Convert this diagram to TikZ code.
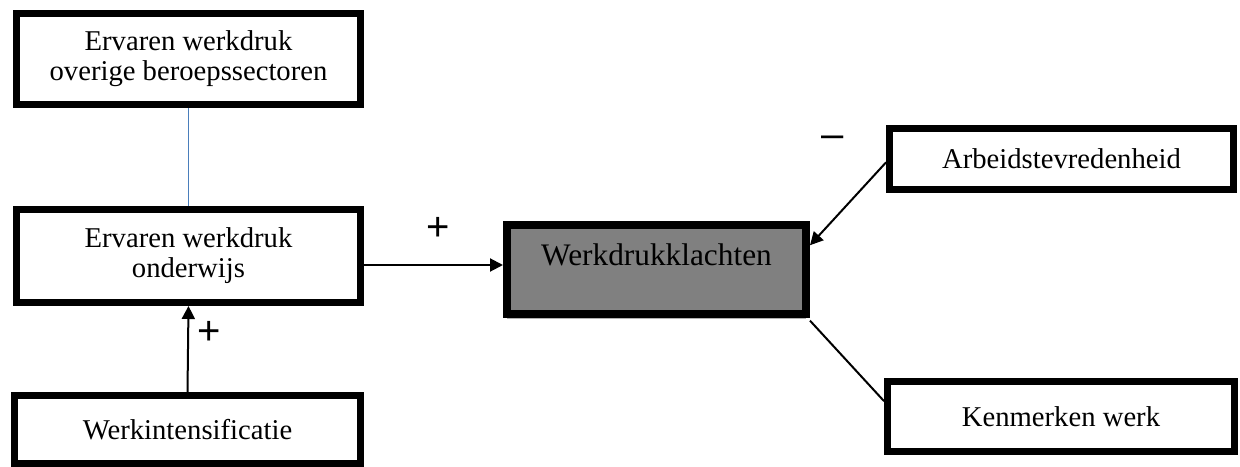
\documentclass[tikz,border=0pt]{standalone}
\usepackage{fontspec}
\setmainfont{Liberation Serif}
\newfontfamily\signfont{Liberation Sans}
\usetikzlibrary{arrows.meta,shadows,calc}
\definecolor{linkblue}{RGB}{74,126,187}
\begin{document}
\begin{tikzpicture}[x=0.75pt,y=-0.75pt,
  box/.style={draw=black, line width=5.25pt, fill=white, inner sep=0pt, align=center,
    font=\fontsize{21.5}{22.5}\selectfont},
  mainbox/.style={draw=black, line width=6pt, fill=black!50, inner sep=0pt,
    font=\fontsize{23.5}{26}\selectfont, text height=17pt, text depth=23pt,
    drop shadow={shadow xshift=0pt, shadow yshift=-3.5pt, fill=black!30, opacity=1}},
  conn/.style={line width=1.5pt, draw=black},
  arr/.style={conn, -{Triangle[length=9.75pt,width=9.75pt]}},
  sign/.style={font=\signfont\fontsize{30}{30}\selectfont, inner sep=0pt}]
\useasboundingbox (0,0) rectangle (1240,467);

\node[box, minimum width=258pt, minimum height=68.25pt] (b1) at (188.5,59)
  {Ervaren werkdruk\\overige beroepssectoren};
\node[box, minimum width=258pt, minimum height=69.75pt] (b2) at (188.5,256)
  {Ervaren werkdruk\\onderwijs};
\node[box, minimum width=259.5pt, minimum height=51pt] (b3) at (187.5,429.5)
  {Werkintensificatie};
\node[mainbox, minimum width=224.25pt, minimum height=66.75pt] (wk) at (656.5,269.5)
  {Werkdrukklachten};
\node[box, minimum width=258pt, minimum height=45.75pt] (ar) at (1061.5,159)
  {Arbeidstevredenheid};
\node[box, minimum width=260.25pt, minimum height=52.5pt] (km) at (1061,416.5)
  {Kenmerken werk};

\draw[linkblue, line width=1.2pt] (b1.south) -- (b2.north);
\draw[arr] (b3.north) -- (b2.south);
\draw[arr] (b2.east |- 0,265) -- (wk.west |- 0,265);
\draw[arr] ($(ar.north west)!0.55!(ar.south west)$) -- ($(wk.north east)!0.25!(wk.south east)$);
\draw[conn] ([yshift=-2pt]wk.south east) -- ($(km.north west)!0.3!(km.south west)$);

\node[sign] (p1) at (438,229) {+};
\node[sign] (p2) at (209,333) {+};
\node[sign] (m1) at (833,142) {–};
\end{tikzpicture}
\end{document}
